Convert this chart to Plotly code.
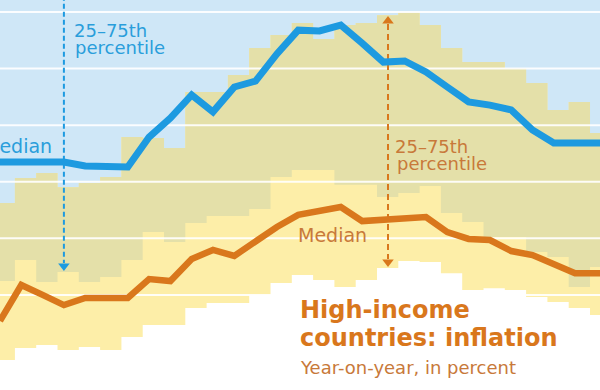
import numpy as np
import plotly.graph_objects as go

# ---------------- data (monthly index, percent) ----------------
MONTHS = list(range(30))

# orange band (inflation 25th / 75th percentile), step values per month
ORANGE_P75 = [5.25, 6.13, 6.31, 5.81, 5.96, 6.17, 7.58, 7.55, 7.19, 9.17,
              9.17, 9.77, 10.73, 11.19, 11.61, 11.05, 11.54, 11.61, 11.89, 12.00,
              11.54, 10.73, 10.23, 10.23, 10.02, 9.49, 8.54, 8.82, 7.72, 7.72]
ORANGE_P25 = [-0.30, 0.12, 0.23, 0.05, 0.16, 0.05, 0.51, 0.94, 0.94, 1.54,
              1.71, 1.71, 2.00, 2.42, 2.70, 2.53, 2.28, 2.53, 2.95, 3.20,
              3.16, 2.77, 2.17, 2.24, 2.17, 1.93, 1.75, 1.54, 1.29, 1.29]
# blue band lower edge (25th percentile); its upper edge lies above the view
BLUE_P25 = [2.49, 3.23, 2.46, 2.81, 2.46, 2.63, 3.23, 4.22, 3.87, 4.54,
            4.79, 4.79, 5.04, 6.17, 6.42, 6.42, 5.89, 5.89, 5.46, 5.60,
            5.85, 4.90, 4.58, 4.05, 4.05, 3.52, 3.34, 2.28, 2.99, 2.99]

BLUE_MEDIAN = [6.70, 6.70, 6.70, 6.70, 6.56, 6.52, 6.52, 7.58, 8.25, 9.07,
               8.47, 9.35, 9.56, 10.52, 11.36, 11.33, 11.54, 10.90, 10.23, 10.27,
               9.88, 9.35, 8.82, 8.71, 8.54, 7.83, 7.37, 7.37, 7.37, 7.37]
ORANGE_MEDIAN = [1.08, 2.35, 2.00, 1.64, 1.89, 1.89, 1.89, 2.56, 2.49, 3.27,
                 3.59, 3.38, 3.91, 4.40, 4.83, 4.97, 5.11, 4.61, 4.65, 4.68,
                 4.75, 4.22, 3.98, 3.94, 3.55, 3.41, 3.09, 2.77, 2.77, 2.77]

Y_GRID = [2, 4, 6, 8, 10, 12]

# ---------------- layout constants ----------------
W, H = 600, 390
PX_PER_MONTH = 21.3
Y0_PX = 351.5          # pixel row of value 0
PX_PER_UNIT = 28.29
STEP_SHIFT = -0.3      # steps start slightly before each month point

X_RANGE = [0, W / PX_PER_MONTH]
Y_RANGE = [(Y0_PX - H) / PX_PER_UNIT, Y0_PX / PX_PER_UNIT]


def X(px):
    return px / PX_PER_MONTH


def Y(py):
    return (Y0_PX - py) / PX_PER_UNIT


LIGHT_BLUE = "#cfe7f7"
KHAKI = "#e4e0a9"
YELLOW = "#fdeea8"
BLUE = "#1d9ae0"
ORANGE = "#d9771c"
BLUE_TXT = "#2a9edb"
ORANGE_TXT = "#c8793a"
FONT = "DejaVu Sans"

m = np.array(MONTHS, dtype=float)
sx = m + STEP_SHIFT
o75 = np.array(ORANGE_P75)
o25 = np.array(ORANGE_P25)
b25 = np.array(BLUE_P25)
overlap_low = np.minimum(np.maximum(o25, b25), o75)
top = np.full_like(m, Y_RANGE[1] + 2)

fig = go.Figure()


def step(y, fill=None, color=None):
    return go.Scatter(x=sx, y=y, mode="lines", line=dict(width=0, shape="hv"),
                      fill=fill, fillcolor=color, hoverinfo="skip", showlegend=False)


# blue band (from its 25th percentile up beyond view)
fig.add_trace(step(top))
fig.add_trace(step(b25, "tonexty", LIGHT_BLUE))
# orange band
fig.add_trace(step(o25))
fig.add_trace(step(o75, "tonexty", YELLOW))
# overlap of both bands
fig.add_trace(step(overlap_low))
fig.add_trace(step(o75, "tonexty", KHAKI))

# gridlines above the bands
gx, gy = [], []
for g in Y_GRID:
    gx += [X_RANGE[0] - 1, X_RANGE[1] + 1, None]
    gy += [g, g, None]
fig.add_trace(go.Scatter(x=gx, y=gy, mode="lines",
                         line=dict(color="rgba(255,255,255,0.9)", width=2),
                         hoverinfo="skip", showlegend=False))

# dashed arrows
blue_arrow_x = 3
orange_arrow_x = X(388)
fig.add_trace(go.Scatter(x=[blue_arrow_x, blue_arrow_x], y=[Y_RANGE[1] + 1, Y(263)],
                         mode="lines", line=dict(color=BLUE, width=2, dash="5px,3px"),
                         hoverinfo="skip", showlegend=False))
fig.add_trace(go.Scatter(x=[orange_arrow_x, orange_arrow_x], y=[Y(24), Y(259)],
                         mode="lines", line=dict(color=ORANGE, width=2, dash="6px,4px"),
                         hoverinfo="skip", showlegend=False))
fig.add_trace(go.Scatter(x=[blue_arrow_x], y=[Y(266)], mode="markers",
                         marker=dict(symbol="triangle-down", size=10, color=BLUE),
                         hoverinfo="skip", showlegend=False))
fig.add_trace(go.Scatter(x=[orange_arrow_x, orange_arrow_x], y=[Y(262), Y(21)], mode="markers",
                         marker=dict(symbol=["triangle-down", "triangle-up"], size=10, color=ORANGE),
                         hoverinfo="skip", showlegend=False))

# medians
fig.add_trace(go.Scatter(x=m, y=BLUE_MEDIAN, mode="lines",
                         line=dict(color=BLUE, width=7), hoverinfo="skip", showlegend=False))
fig.add_trace(go.Scatter(x=m, y=ORANGE_MEDIAN, mode="lines",
                         line=dict(color=ORANGE, width=6.5), hoverinfo="skip", showlegend=False))


def label(text, px, py, size, color, anchor="left"):
    return dict(text=text, x=px / W, y=1 - py / H, xref="paper", yref="paper",
                xanchor=anchor, yanchor="middle", showarrow=False, borderpad=0,
                font=dict(family=FONT, size=size, color=color))


annotations = [
    label("25–75th", 73, 31, 18, BLUE_TXT),
    label("percentile", 74, 47, 18, BLUE_TXT),
    label("Median", 53, 146, 19, BLUE_TXT, anchor="right"),
    label("25–75th", 394, 146, 18, ORANGE_TXT),
    label("percentile", 396, 163, 18, ORANGE_TXT),
    label("Median", 297, 235, 19, ORANGE_TXT),
    label("<b>High-income</b>", 299, 310, 24, ORANGE),
    label("<b>countries: inflation</b>", 299, 338, 24, ORANGE),
    label("Year-on-year, in percent", 299, 367, 18, ORANGE_TXT),
]

fig.update_layout(
    width=W, height=H,
    margin=dict(l=0, r=0, t=0, b=0),
    paper_bgcolor="white", plot_bgcolor="white",
    xaxis=dict(range=X_RANGE, visible=False, fixedrange=True),
    yaxis=dict(range=Y_RANGE, visible=False, fixedrange=True),
    annotations=annotations,
    showlegend=False,
)

fig.write_html(
    "out.html",
    config={"displayModeBar": False},
    post_script="document.body.style.margin='0';document.body.style.overflow='hidden';",
)
